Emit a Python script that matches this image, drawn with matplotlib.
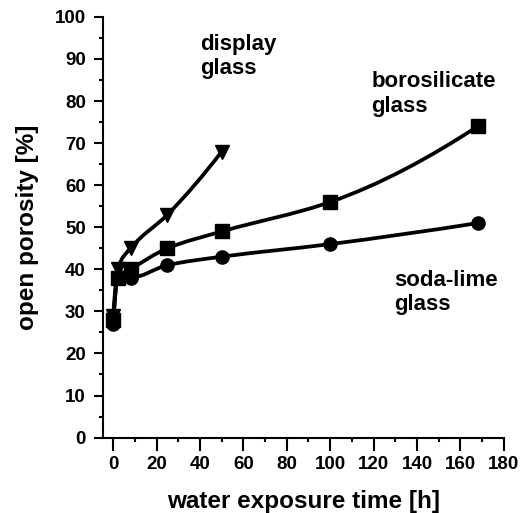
import matplotlib.pyplot as plt
import numpy as np
from matplotlib.path import Path
from matplotlib.patches import PathPatch
from matplotlib.ticker import MultipleLocator

plt.rcParams['font.family'] = 'Liberation Sans'
plt.rcParams['font.weight'] = 'bold'

time_display = [0, 2, 8, 25, 50]
por_display = [29, 40, 45, 53, 68]
time_boro = [0, 2, 8, 25, 50, 100, 168]
por_boro = [28, 38, 40, 45, 49, 56, 74]
time_soda = [0, 2, 8, 25, 50, 100, 168]
por_soda = [27, 38, 38, 41, 43, 46, 51]


def end_slope(h0, h1, s0, s1):
    d = ((2 * h0 + h1) * s0 - h0 * s1) / (h0 + h1)
    if np.sign(d) != np.sign(s0):
        return 0.0
    if np.sign(s0) != np.sign(s1) and abs(d) > abs(3 * s0):
        return 3 * s0
    return d


def smooth_path(xs, ys):
    # cubic hermite curve (pchip-type slopes) drawn as bezier segments
    xs = np.asarray(xs, float)
    ys = np.asarray(ys, float)
    h = np.diff(xs)
    s = np.diff(ys) / h
    n = len(xs)
    m = np.zeros(n)
    m[0] = end_slope(h[0], h[1], s[0], s[1])
    m[-1] = end_slope(h[-1], h[-2], s[-1], s[-2])
    for i in range(1, n - 1):
        if s[i - 1] * s[i] <= 0:
            m[i] = 0
        else:
            w1 = 2 * h[i] + h[i - 1]
            w2 = h[i] + 2 * h[i - 1]
            m[i] = (w1 + w2) / (w1 / s[i - 1] + w2 / s[i])
    verts = [(xs[0], ys[0])]
    codes = [Path.MOVETO]
    for i in range(n - 1):
        c1 = (xs[i] + h[i] / 3, ys[i] + m[i] * h[i] / 3)
        c2 = (xs[i + 1] - h[i] / 3, ys[i + 1] - m[i + 1] * h[i] / 3)
        verts += [c1, c2, (xs[i + 1], ys[i + 1])]
        codes += [Path.CURVE4] * 3
    return Path(verts, codes)


fig = plt.figure(figsize=(5.32, 5.13), dpi=100)
ax = fig.add_axes([0.194, 0.147, 0.753, 0.820])

for xs, ys, m in [(time_display, por_display, 'v'),
                  (time_boro, por_boro, 's'),
                  (time_soda, por_soda, 'o')]:
    ax.add_patch(PathPatch(smooth_path(xs, ys), fill=False, lw=2.7, color='black'))
    ax.plot(xs, ys, linestyle='none', marker=m, markersize=9.5, color='black')

ax.set_xlim(-4.6, 180)
ax.set_ylim(0, 100)
ax.xaxis.set_major_locator(MultipleLocator(20))
ax.xaxis.set_minor_locator(MultipleLocator(10))
ax.yaxis.set_major_locator(MultipleLocator(10))
ax.yaxis.set_minor_locator(MultipleLocator(5))
ax.spines['top'].set_visible(False)
ax.spines['right'].set_visible(False)
ax.spines['left'].set_linewidth(1.5)
ax.spines['bottom'].set_linewidth(1.5)
ax.tick_params(axis='x', which='major', direction='out', length=9, width=1.5, labelsize=13.5, pad=4.5)
ax.tick_params(axis='y', which='major', direction='out', length=6.5, width=1.5, labelsize=13.5, pad=6)
ax.tick_params(which='minor', direction='out', length=3, width=1.5)

ax.set_xlabel('water exposure time [h]', fontsize=17.5, fontweight='bold', labelpad=12)
ax.set_ylabel('open porosity [%]', fontsize=17.5, fontweight='bold', labelpad=11)

ax.text(40, 90.5, 'display\nglass', fontsize=16, fontweight='bold', va='center', ha='left')
ax.text(119, 81.7, 'borosilicate\nglass', fontsize=16, fontweight='bold', va='center', ha='left')
ax.text(129.5, 34.4, 'soda-lime\nglass', fontsize=16, fontweight='bold', va='center', ha='left')

plt.savefig('out.png', dpi=100)
plt.close()
